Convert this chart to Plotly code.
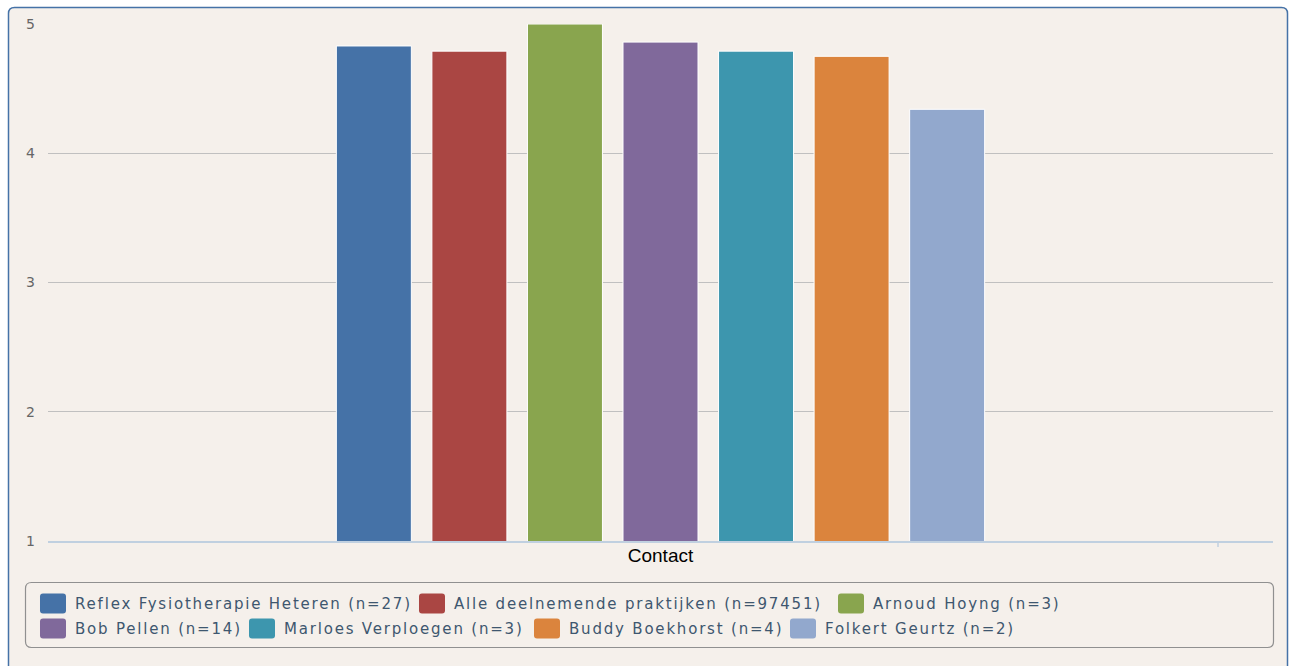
import plotly.graph_objects as go

# ---- data ----
categories = ["Contact"]
series_names = [
    "Reflex Fysiotherapie Heteren (n=27)",
    "Alle deelnemende praktijken (n=97451)",
    "Arnoud Hoyng (n=3)",
    "Bob Pellen (n=14)",
    "Marloes Verploegen (n=3)",
    "Buddy Boekhorst (n=4)",
    "Folkert Geurtz (n=2)",
]
series_values = [4.83, 4.79, 5.0, 4.86, 4.79, 4.75, 4.34]
y_ticks = [1, 2, 3, 4, 5]

# ---- style ----
colors = ["#4572A7", "#AA4643", "#89A54E", "#80699B", "#3D96AE", "#DB843D", "#92A8CD"]
BG = "#F5F0EB"
W, H = 1289, 666
L, R, T, B = 48, 1273, 24, 541  # plot area in pixels


def px(x):
    return (x - L) / (R - L)


def py(y):
    return (B - y) / (B - T)


def rounded_rect(x0, y0, x1, y1, r):
    pts = [
        ("M", [(x0 + r, y0)]),
        ("L", [(x1 - r, y0)]),
        ("Q", [(x1, y0), (x1, y0 + r)]),
        ("L", [(x1, y1 - r)]),
        ("Q", [(x1, y1), (x1 - r, y1)]),
        ("L", [(x0 + r, y1)]),
        ("Q", [(x0, y1), (x0, y1 - r)]),
        ("L", [(x0, y0 + r)]),
        ("Q", [(x0, y0), (x0 + r, y0)]),
    ]
    out = []
    for cmd, ps in pts:
        out.append(cmd + " ".join(f"{px(a):.6f},{py(b):.6f}" for a, b in ps))
    return " ".join(out) + " Z"


fig = go.Figure()
for name, val, col in zip(series_names, series_values, colors):
    fig.add_trace(go.Bar(
        x=categories, y=[val], name=name,
        marker=dict(color=col, line=dict(color="white", width=1)),
        showlegend=False,
    ))

shapes = [
    # chart frame
    dict(type="path", path=rounded_rect(8.5, 7.5, 1287.5, 720, 6), xref="paper", yref="paper",
         fillcolor=BG, line=dict(color="#4572A7", width=1.5), layer="below"),
    # legend box
    dict(type="path", path=rounded_rect(25.5, 582.5, 1273.5, 647.5, 6), xref="paper", yref="paper",
         fillcolor=BG, line=dict(color="#909090", width=1.2), layer="below"),
    # x-axis tick mark
    dict(type="line", x0=px(1218), x1=px(1218), y0=py(541), y1=py(547), xref="paper", yref="paper",
         line=dict(color="#C0D0E0", width=1.5)),
]

# legend entries: row centre y and swatch left x
legend_rows = [603.5, 603.5, 603.5, 628.5, 628.5, 628.5, 628.5]
legend_x = [40, 419, 838, 40, 249, 534, 790]
annotations = []
for name, col, lx, ly in zip(series_names, colors, legend_x, legend_rows):
    shapes.append(dict(type="path", path=rounded_rect(lx, ly - 10, lx + 26, ly + 10, 3),
                       xref="paper", yref="paper", fillcolor=col, line=dict(width=0), layer="above"))
    annotations.append(dict(text=f'<span style="letter-spacing:1.8px">{name}</span>',
                            x=px(lx + 33), y=py(ly), xref="paper", yref="paper",
                            xanchor="left", yanchor="middle", showarrow=False,
                            font=dict(family="DejaVu Sans", size=15, color="#3E576F")))

fig.update_layout(
    width=W, height=H,
    margin=dict(l=L, r=W - R, t=T, b=H - B),
    paper_bgcolor="white", plot_bgcolor="rgba(0,0,0,0)",
    barmode="group", bargap=0.454, bargroupgap=0.215,
    shapes=shapes, annotations=annotations,
    showlegend=False,
)
fig.update_xaxes(
    range=[-0.5, 0.5], showgrid=False, showline=True, linecolor="#C0D0E0", linewidth=1.5,
    ticks="", ticklabelstandoff=-4,
    tickfont=dict(family="Liberation Sans", size=19, color="black"),
)
fig.update_yaxes(
    range=[1, 5], tickvals=y_ticks, showgrid=True, gridcolor="#C0C0C0", gridwidth=1,
    zeroline=False, showline=False, ticks="", ticklabelstandoff=12,
    tickfont=dict(family="DejaVu Sans", size=14, color="#666666"),
)

fig.write_html("out.html")
